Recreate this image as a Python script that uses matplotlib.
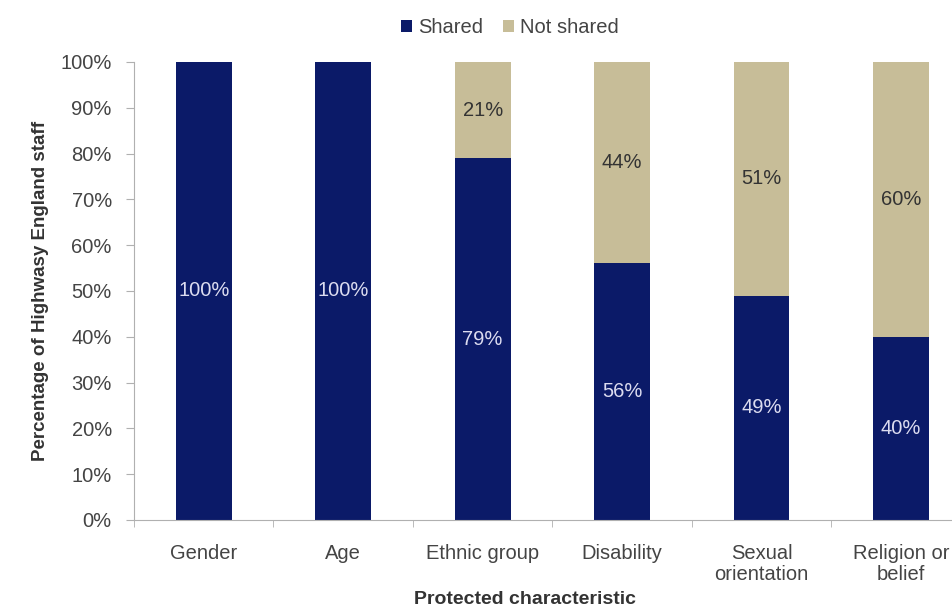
import numpy as np
import matplotlib.pyplot as plt
from matplotlib.ticker import PercentFormatter

plt.rcParams['font.family'] = ['Liberation Sans', 'DejaVu Sans']

# Share of staff who disclosed each protected characteristic
categories = ['Gender', 'Age', 'Ethnic group', 'Disability', 'Sexual\norientation', 'Religion or\nbelief']
shared = [100, 100, 79, 56, 49, 40]
not_shared = [0, 0, 21, 44, 51, 60]

navy = '#0b1a68'
tan = '#c7bd98'

fig = plt.figure(figsize=(9.53, 6.11), dpi=100)
ax = fig.add_axes([0.1406, 0.149, 0.878, 0.7496])

x = np.arange(len(categories))
b1 = ax.bar(x, shared, width=0.4, color=navy, label='Shared')
b2 = ax.bar(x, not_shared, width=0.4, bottom=shared, color=tan, label='Not shared')

for xi, s, n in zip(x, shared, not_shared):
    ax.text(xi, s / 2, f'{s}%', ha='center', va='center', color='#dcdcf0', fontsize=14.5)
    if n > 0:
        ax.text(xi, s + n / 2, f'{n}%', ha='center', va='center', color='#333333', fontsize=14.5)

ax.set_xlim(-0.5, len(categories) - 0.5)
ax.set_ylim(0, 100)
ax.set_yticks(np.arange(0, 101, 10))
ax.yaxis.set_major_formatter(PercentFormatter(decimals=0))
ax.set_xticks(x)
ax.set_xticklabels(categories, linespacing=1.15)
ax.set_xticks(np.arange(-0.5, len(categories)), minor=True)

for side in ['top', 'right']:
    ax.spines[side].set_visible(False)
for side in ['left', 'bottom']:
    ax.spines[side].set_color('#b0b0b0')

ax.tick_params(axis='y', colors='#b0b0b0', labelcolor='#444444', labelsize=14.5, length=6, direction='out', pad=10)
ax.tick_params(axis='x', which='major', length=0, labelcolor='#444444', labelsize=14.5, pad=17)
ax.tick_params(axis='x', which='minor', length=5, color='#b0b0b0')

ax.set_ylabel('Percentage of Highwasy England staff', fontsize=13.5, fontweight='bold', color='#333333', labelpad=8)
fig.text(0.551, 0.012, 'Protected characteristic', ha='center', fontsize=14, fontweight='bold', color='#333333')

fig.legend(handles=[b1, b2], loc='upper center', bbox_to_anchor=(0.535, 1.0), ncol=2, frameon=False,
           fontsize=14.5, handlelength=0.55, handleheight=0.55, handletextpad=0.3, columnspacing=1.0,
           labelcolor='#444444')

fig.savefig('out.png', dpi=100)
